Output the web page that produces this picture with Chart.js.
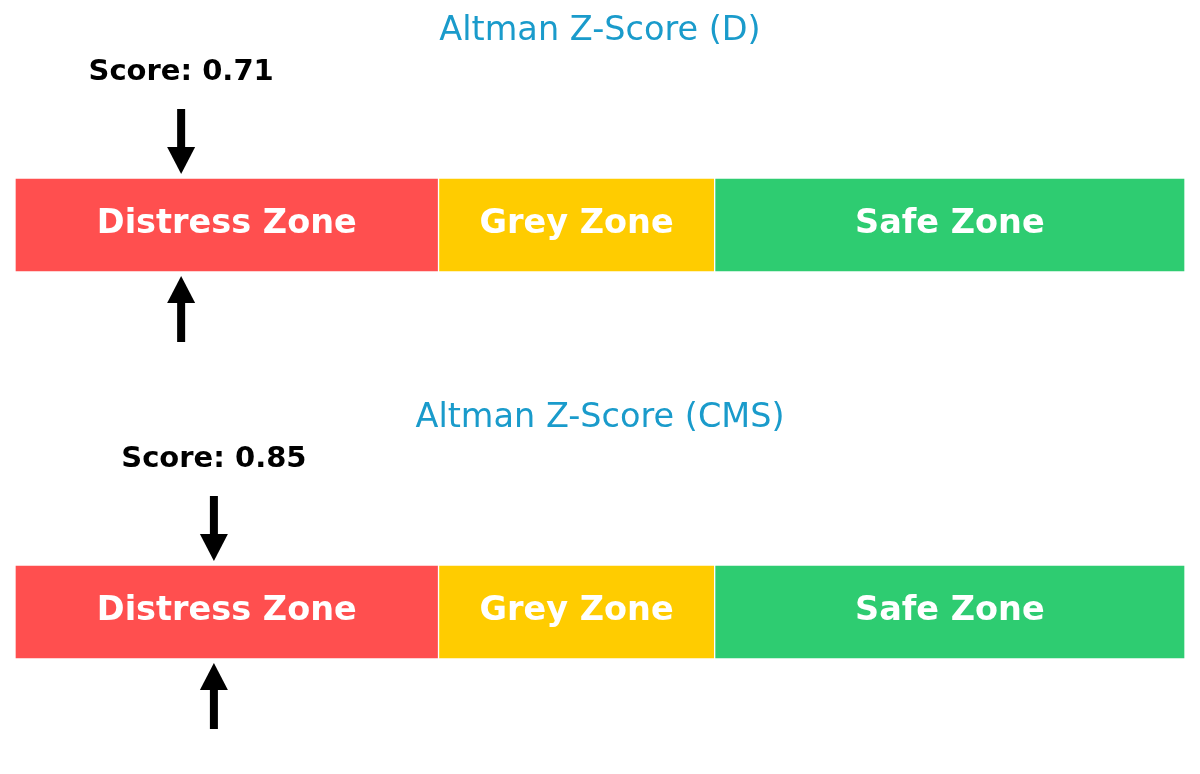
<!DOCTYPE html>
<html><head><meta charset="utf-8">
<script src="https://cdn.jsdelivr.net/npm/chart.js@4"></script>
<style>
html,body{margin:0;padding:0;background:#fff;}
.wrap{position:absolute;left:0;width:1200px;height:387px;}
</style></head>
<body>
<div class="wrap" style="top:0"><canvas id="c1"></canvas></div>
<div class="wrap" style="top:387px"><canvas id="c2"></canvas></div>
<script>
const zoneNames = ["Distress Zone", "Grey Zone", "Safe Zone"];
const zoneStarts = [0, 1.81, 2.99];
const zoneEnds = [1.81, 2.99, 5.0];
const zoneColors = ["#FF4F4F", "#FFCC00", "#2ECC71"];
const companies = ["D", "CMS"];
const scores = [0.71, 0.85];
const axisMin = 0, axisMax = 5;

const FONT = "'DejaVu Sans', sans-serif";

function arrow(ctx, x, yTail, yTip) {
  const dir = yTip > yTail ? 1 : -1;
  const headLen = 27, headHalf = 14, shaft = 4;
  const yHeadBase = yTip - dir * headLen;
  ctx.fillStyle = "#000";
  ctx.fillRect(x - shaft, Math.min(yTail, yHeadBase), shaft * 2, Math.abs(yHeadBase - yTail) + 1);
  ctx.beginPath();
  ctx.moveTo(x - headHalf, yHeadBase);
  ctx.lineTo(x + headHalf, yHeadBase);
  ctx.lineTo(x, yTip);
  ctx.closePath();
  ctx.fill();
}

const overlay = {
  id: "overlay",
  afterDatasetsDraw(chart, args, opts) {
    const ctx = chart.ctx;
    const xs = chart.scales.x;
    ctx.save();
    ctx.textAlign = "center";
    ctx.textBaseline = "middle";
    chart.data.datasets.forEach((ds, i) => {
      const el = chart.getDatasetMeta(i).data[0];
      const cx = (el.x + el.base) / 2;
      ctx.fillStyle = "#fff";
      ctx.font = "bold 33.5px " + FONT;
      ctx.fillText(ds.label, cx, el.y - 1);
    });
    const el0 = chart.getDatasetMeta(0).data[0];
    const top = el0.y - el0.height / 2;
    const bottom = el0.y + el0.height / 2;
    ctx.fillStyle = "#1A9BCB";
    ctx.font = "33.5px " + FONT;
    ctx.fillText("Altman Z-Score (" + opts.company + ")", (chart.chartArea.left + chart.chartArea.right) / 2, 31);
    const sx = xs.getPixelForValue(opts.score);
    ctx.fillStyle = "#000";
    ctx.font = "bold 29px " + FONT;
    ctx.fillText("Score: " + opts.score.toFixed(2), sx, 72);
    arrow(ctx, sx, top - 69, top - 4);
    arrow(ctx, sx, bottom + 69, bottom + 4);
    ctx.restore();
  }
};

function makeChart(id, idx) {
  new Chart(document.getElementById(id), {
    type: "bar",
    data: {
      labels: [""],
      datasets: zoneNames.map((n, i) => ({
        label: n,
        data: [[zoneStarts[i], zoneEnds[i]]],
        backgroundColor: zoneColors[i],
        borderColor: "#fff",
        borderWidth: 1,
        borderSkipped: false,
        grouped: false,
        barPercentage: 1,
        categoryPercentage: 1
      }))
    },
    options: {
      indexAxis: "y",
      responsive: true,
      maintainAspectRatio: false,
      animation: false,
      layout: { padding: { left: 15, right: 15, top: 178, bottom: 115 } },
      scales: {
        x: { min: axisMin, max: axisMax, display: false },
        y: { display: false }
      },
      plugins: {
        legend: { display: false },
        tooltip: { enabled: false },
        overlay: { company: companies[idx], score: scores[idx] }
      }
    },
    plugins: [overlay]
  });
}
makeChart("c1", 0);
makeChart("c2", 1);
</script>
</body></html>
